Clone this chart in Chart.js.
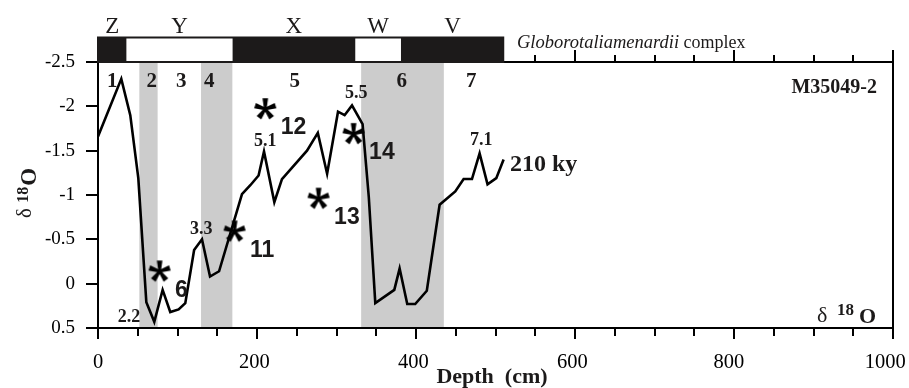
<!DOCTYPE html>
<html>
<head>
<meta charset="utf-8">
<script src="https://cdn.jsdelivr.net/npm/chart.js@4.4.1/dist/chart.umd.min.js"></script>
<style>
  html, body { margin: 0; padding: 0; background: #fff; }
  canvas { display: block; }
</style>
</head>
<body>
<canvas id="c" width="909" height="388"></canvas>
<script>
// Core M35049-2: planktonic δ18O versus depth
const depthCm = [0, 29.3, 40.6, 50.7, 60.8, 70.8, 81.3, 90.9, 101.4, 109.8,
  120.9, 130.8, 140.9, 152.3, 181.1, 191.6, 202, 208.8, 221.8, 231.4,
  262.9, 276.5, 288.2, 301.9, 310.2, 319.5, 332.8, 340.6, 348.8, 372.7,
  379.4, 389, 399, 413.6, 429.7, 449.4, 459.9, 470.4, 480, 490,
  501, 510.2];
const d18O = [-1.66, -2.31, -1.90, -1.19, 0.21, 0.43, 0.07, 0.32, 0.29, 0.22,
  -0.38, -0.50, -0.08, -0.14, -1.01, -1.11, -1.22, -1.49, -0.92, -1.18,
  -1.50, -1.70, -1.24, -1.94, -1.90, -2.01, -1.80, -0.98, 0.22, 0.07,
  -0.17, 0.23, 0.23, 0.08, -0.89, -1.04, -1.18, -1.18, -1.47, -1.12,
  -1.19, -1.40];

// Axis tick labels
const xTickLabels = ['0', '200', '400', '600', '800', '1000'];
const yTickLabels = ['-2.5', '-2', '-1.5', '-1', '-0.5', '0', '0.5'];

// Globorotalia menardii complex zones (depth where each zone ends)
const zoneNames = ['Z', 'Y', 'X', 'W', 'V'];
const zoneEndCm = [35.7, 169.3, 323.6, 381.1, 511];
const zonePresent = [true, false, true, false, true];

// Marine isotope stages
const stageNames = ['1', '2', '3', '4', '5', '6', '7'];
const stageDepthCm = [18, 67.7, 104.8, 140, 247.5, 382, 469.5];
// Glacial stages 2, 4 and 6 (shaded)
const glacialFromCm = [52, 129.6, 331];
const glacialToCm = [75, 169, 435];

// Isotope substages
const subStageNames = ['2.2', '3.3', '5.1', '5.5', '7.1'];
const subStageDepthCm = [39.1, 129.9, 210.4, 324.7, 482.1];
const subStageD18O = [0.38, -0.61, -1.61, -2.15, -1.62];

// Age control points
const tieNames = ['6', '11', '12', '13', '14'];
const tieDepthCm = [77.5, 171.8, 210.4, 277.5, 321.5];
const tieD18O = [-0.14, -0.59, -1.97, -0.96, -1.69];

const SERIF = '"Liberation Serif", "Times New Roman", serif';
const SANS = '"Liberation Sans", Arial, sans-serif';
const INK = '#1c1a1a';
// trailing spaces that pull the wider depth labels back inside the frame
const xLabelPad = [0, 1, 1, 1, 2, 3];

// five-armed asterisk used for the control points
const starImg = (() => {
  const c = document.createElement('canvas');
  c.width = 26; c.height = 26;
  const g = c.getContext('2d');
  g.translate(13, 13);
  g.fillStyle = '#000';
  for (let k = 0; k < 5; k++) {
    g.save();
    g.rotate(k * 2 * Math.PI / 5);
    g.beginPath();
    g.moveTo(-1.3, 0); g.lineTo(1.3, 0);
    g.lineTo(2.8, -10.8); g.lineTo(-2.8, -10.8);
    g.closePath();
    g.fill();
    g.restore();
  }
  return c;
})();

function seg(ctx, x0, y0, x1, y1) {
  ctx.beginPath(); ctx.moveTo(x0, y0); ctx.lineTo(x1, y1); ctx.stroke();
}

const decor = {
  id: 'decor',
  beforeDatasetsDraw(chart) {
    const { ctx, chartArea: a, scales: { x } } = chart;
    ctx.save();
    ctx.fillStyle = '#cccccc';
    glacialFromCm.forEach((d0, i) => {
      const x0 = x.getPixelForValue(d0), x1 = x.getPixelForValue(glacialToCm[i]);
      ctx.fillRect(x0, a.top, x1 - x0, a.bottom - a.top);
    });
    ctx.restore();
  },
  afterDatasetsDraw(chart) {
    const { ctx, chartArea: a, scales: { x, y } } = chart;
    ctx.save();
    ctx.strokeStyle = '#000';
    ctx.lineWidth = 2;

    // frame
    ctx.beginPath();
    ctx.moveTo(a.left, a.top); ctx.lineTo(a.left, a.bottom);
    ctx.lineTo(a.right, a.bottom); ctx.lineTo(a.right, a.top);
    ctx.closePath();
    ctx.stroke();

    // depth ticks every 50 cm, bottom and top
    for (let d = 0; d <= 1000; d += 50) {
      const px = Math.round(x.getPixelForValue(d));
      const major = d % 200 === 0;
      seg(ctx, px, a.bottom, px, a.bottom + (major ? 11 : 8));
      seg(ctx, px, a.top, px, a.top - (major ? 12 : 7));
    }
    // δ18O ticks
    yTickLabels.forEach(t => {
      const py = Math.round(y.getPixelForValue(+t));
      seg(ctx, a.left - 12, py, a.left, py);
    });

    // G. menardii zone bar
    const bTop = 36.5, bBot = a.top + 1;
    const x0 = x.getPixelForValue(0) - 1;
    const xEnd = x.getPixelForValue(zoneEndCm[zoneEndCm.length - 1]);
    ctx.fillStyle = INK;
    ctx.fillRect(x0, bTop, xEnd - x0, bBot - bTop);
    ctx.fillStyle = '#fff';
    zoneNames.forEach((z, i) => {
      if (zonePresent[i]) return;
      const s = x.getPixelForValue(i ? zoneEndCm[i - 1] : 0);
      const e = x.getPixelForValue(zoneEndCm[i]);
      ctx.fillRect(s, bTop + 2, e - s, bBot - bTop - 4);
    });
    ctx.fillStyle = INK;
    ctx.textAlign = 'center';
    ctx.textBaseline = 'alphabetic';
    ctx.font = '23px ' + SERIF;
    zoneNames.forEach((z, i) => {
      const s = i ? zoneEndCm[i - 1] : 0;
      ctx.fillText(z, x.getPixelForValue((s + zoneEndCm[i]) / 2), 33);
    });
    // zone bar caption
    ctx.textAlign = 'left';
    const cap1 = 'Globorotaliamenardii';
    ctx.font = 'italic 18.5px ' + SERIF;
    const capW = ctx.measureText(cap1).width;
    ctx.fillText(cap1, 517, 48);
    ctx.font = '18px ' + SERIF;
    ctx.fillText(' complex', 517 + capW, 48);

    // stage numbers
    ctx.textAlign = 'center';
    ctx.font = 'bold 21px ' + SERIF;
    stageNames.forEach((s, i) => ctx.fillText(s, x.getPixelForValue(stageDepthCm[i]), 87));

    // substage labels
    ctx.textBaseline = 'middle';
    ctx.font = 'bold 18px ' + SERIF;
    subStageNames.forEach((s, i) => {
      ctx.fillText(s, x.getPixelForValue(subStageDepthCm[i]), y.getPixelForValue(subStageD18O[i]));
    });

    // control point numbers
    ctx.textAlign = 'left';
    ctx.font = 'bold 23px ' + SANS;
    tieNames.forEach((s, i) => {
      ctx.fillText(s, x.getPixelForValue(tieDepthCm[i]) + 15.5, y.getPixelForValue(tieD18O[i]) + 19);
    });

    // core name, end age
    ctx.textBaseline = 'alphabetic';
    ctx.textAlign = 'right';
    ctx.font = 'bold 20px ' + SERIF;
    ctx.fillText('M35049-2', 877, 93);
    ctx.textAlign = 'left';
    ctx.font = 'bold 24px ' + SERIF;
    ctx.fillText('210 ky', 510, 171);

    // series label, lower right
    ctx.font = '22px ' + SERIF;
    ctx.fillText('δ', 817, 322);
    ctx.font = 'bold 17px ' + SERIF;
    ctx.fillText('18', 837, 315);
    ctx.font = 'bold 22px ' + SERIF;
    ctx.fillText('O', 859, 323);

    // axis titles
    ctx.textAlign = 'center';
    ctx.font = 'bold 22px ' + SERIF;
    ctx.fillText('Depth  (cm)', 492, 383);

    ctx.save();
    ctx.rotate(-Math.PI / 2);
    ctx.textAlign = 'left';
    let u = -218;
    ctx.font = '21px ' + SERIF;
    ctx.fillText('δ', u, 31);
    u += ctx.measureText('δ ').width;
    ctx.font = 'bold 16px ' + SERIF;
    ctx.fillText('18', u, 28);
    u += ctx.measureText('18').width + 1;
    ctx.font = 'bold 23px ' + SERIF;
    ctx.fillText('O', u, 36);
    ctx.restore();

    ctx.restore();
  }
};

new Chart(document.getElementById('c'), {
  type: 'line',
  data: {
    datasets: [
      {
        data: depthCm.map((d, i) => ({ x: d, y: d18O[i] })),
        borderColor: '#000',
        borderWidth: 2.6,
        pointRadius: 0,
        tension: 0,
        fill: false,
        borderJoinStyle: 'miter'
      },
      {
        type: 'scatter',
        data: tieDepthCm.map((d, i) => ({ x: d, y: tieD18O[i] })),
        pointStyle: starImg,
        pointRadius: 11,
        showLine: false
      }
    ]
  },
  options: {
    responsive: false,
    animation: false,
    devicePixelRatio: 1,
    layout: { padding: { top: 62, right: 16, bottom: 0, left: 0 } },
    plugins: { legend: { display: false }, tooltip: { enabled: false } },
    scales: {
      x: {
        type: 'linear', position: 'bottom', min: 0, max: 1000,
        afterFit: s => { s.height = 60; s.paddingLeft = 0; s.paddingRight = 0; },
        afterBuildTicks: s => { s.ticks = xTickLabels.map(t => ({ value: +t })); },
        ticks: {
          callback: (v, i) => xTickLabels[i] + ' '.repeat(xLabelPad[i]),
          font: { family: SERIF, size: 20.5 }, color: '#000',
          padding: 22, maxRotation: 0, autoSkip: false
        },
        grid: { display: false, drawTicks: false },
        border: { display: false }
      },
      y: {
        type: 'linear', position: 'left', min: -2.5, max: 0.5, reverse: true,
        afterFit: s => { s.width = 98; s.paddingTop = 0; s.paddingBottom = 0; },
        afterBuildTicks: s => { s.ticks = yTickLabels.map(t => ({ value: +t })); },
        ticks: {
          callback: (v, i) => yTickLabels[i],
          font: { family: SERIF, size: 19 }, color: '#000',
          padding: 23, autoSkip: false
        },
        grid: { display: false, drawTicks: false },
        border: { display: false }
      }
    }
  },
  plugins: [decor]
});
</script>
</body>
</html>
